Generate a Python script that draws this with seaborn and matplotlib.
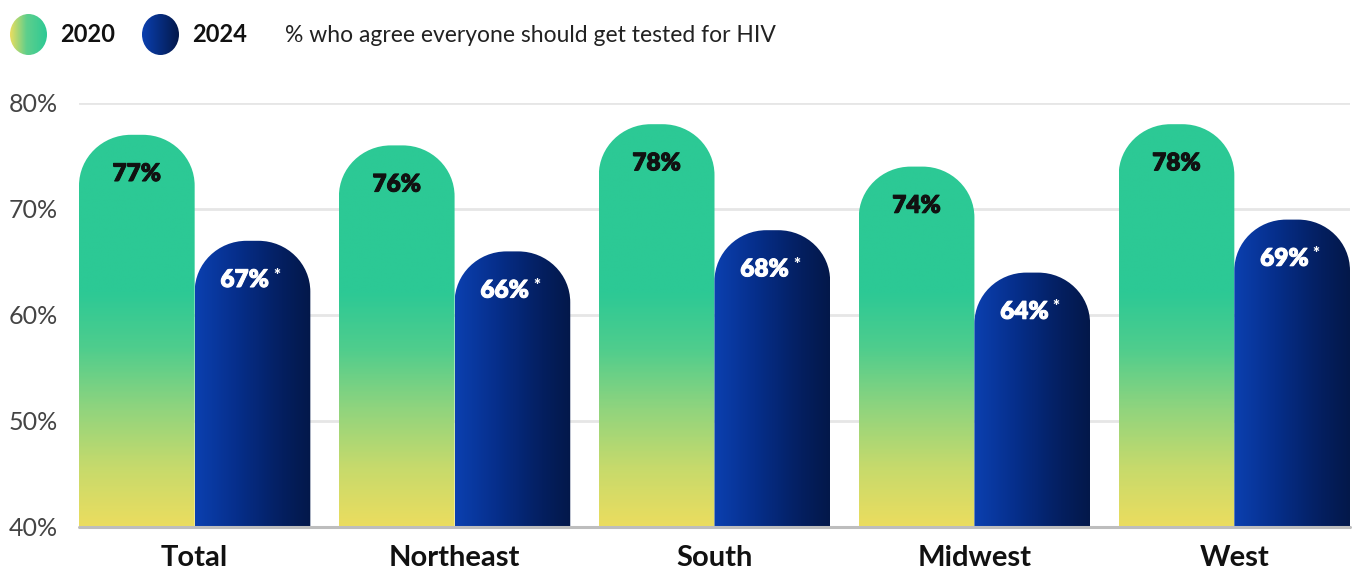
import numpy as np
import pandas as pd
import matplotlib
matplotlib.use("Agg")
import matplotlib.pyplot as plt
import matplotlib.patheffects as pe
import seaborn as sns
from matplotlib.path import Path
from matplotlib.patches import PathPatch, Ellipse
from matplotlib.colors import LinearSegmentedColormap, Normalize

# Survey data
regions = ["Total", "Northeast", "South", "Midwest", "West"]
years = ["2020", "2024"]
values_2020 = [77, 76, 78, 74, 78]
values_2024 = [67, 66, 68, 64, 69]
y_ticks = [40, 50, 60, 70, 80]
subtitle = "% who agree everyone should get tested for HIV"

df = pd.DataFrame({
    "region": regions * 2,
    "year": [years[0]] * len(regions) + [years[1]] * len(regions),
    "value": values_2020 + values_2024,
})

sns.set_theme(style="white")
plt.rcParams["font.family"] = ["Lato", "DejaVu Sans"]

W, H = 1353, 571
fig = plt.figure(figsize=(W / 100, H / 100), dpi=100)
ax = fig.add_axes([79 / W, 1 - 527 / H, (1350 - 79) / W, (527 - 103) / H])

YMIN, YMAX = 40, 80
sns.barplot(data=df, x="region", y="value", hue="year", order=regions,
            hue_order=years, palette=["#2DC995", "#0A2F8A"], width=0.89,
            saturation=1, legend=False, ax=ax, zorder=2)

# Gradients
green_cmap = LinearSegmentedColormap.from_list("green", [
    (0.00, "#EBDD5F"), (0.14, "#C6DA6C"), (0.28, "#8FD47E"),
    (0.42, "#4FCD8D"), (0.55, "#2DC995"), (1.00, "#2CC995")])
blue_cmap = LinearSegmentedColormap.from_list("blue", [
    (0.00, "#0B40B0"), (0.35, "#062F8C"), (0.75, "#041F60"), (1.00, "#03184A")])

RX, RY = 0.2, 4.8   # corner radii of the rounded bar tops (data units)
K = 0.5523


def rounded_top(x0, x1, top):
    verts = [(x0, YMIN), (x0, top - RY),
             (x0, top - RY + K * RY), (x0 + RX - K * RX, top), (x0 + RX, top),
             (x1 - RX, top),
             (x1 - RX + K * RX, top), (x1, top - RY + K * RY), (x1, top - RY),
             (x1, YMIN), (x0, YMIN)]
    codes = [Path.MOVETO, Path.LINETO,
             Path.CURVE4, Path.CURVE4, Path.CURVE4,
             Path.LINETO,
             Path.CURVE4, Path.CURVE4, Path.CURVE4,
             Path.LINETO, Path.CLOSEPOLY]
    return Path(verts, codes)


def heavy(color):
    return [pe.withStroke(linewidth=0.7, foreground=color)]


bars = list(ax.patches)
for bar in bars:
    x0 = bar.get_x()
    x1 = x0 + bar.get_width()
    xc = (x0 + x1) / 2
    top = bar.get_height()
    is_2020 = abs(bar.get_facecolor()[1] - 0xC9 / 255) < 0.05
    bar.set_visible(False)
    clip = PathPatch(rounded_top(x0, x1, top), transform=ax.transData,
                     facecolor="none", edgecolor="none")
    ax.add_patch(clip)
    if is_2020:
        grad = np.linspace(YMIN, top, 300).reshape(-1, 1)
        im = ax.imshow(grad, cmap=green_cmap, norm=Normalize(YMIN, YMAX),
                       extent=(x0, x1, YMIN, top), origin="lower",
                       aspect="auto", zorder=2, interpolation="bilinear")
        ax.text(xc, top - 3.7, f"{int(round(top))}%", ha="center",
                va="center", fontsize=17.5, fontweight="heavy",
                color="#111111", zorder=4, path_effects=heavy("#111111"))
    else:
        grad = np.linspace(0, 1, 300).reshape(1, -1)
        im = ax.imshow(grad, cmap=blue_cmap, extent=(x0, x1, YMIN, top),
                       origin="lower", aspect="auto", zorder=2,
                       interpolation="bilinear")
        txt = ax.text(xc - 0.03, top - 3.7, f"{int(round(top))}%",
                      ha="center", va="center", fontsize=17.5,
                      fontweight="heavy", color="white", zorder=4,
                      path_effects=heavy("white"))
        ax.annotate("*", xy=(1, 1), xycoords=txt, xytext=(3, 1),
                    textcoords="offset points", ha="left", va="top",
                    fontsize=12, fontweight="heavy", color="white", zorder=4)
    im.set_clip_path(clip)

ax.set_xlim(-0.445, 4.445)
ax.set_ylim(YMIN, YMAX)
ax.set_yticks(y_ticks)
ax.set_yticklabels([f"{t}%" for t in y_ticks])
for t in y_ticks[1:]:
    ax.axhline(t, color="#E6E6E6", lw=2, zorder=1)
ax.axhline(YMIN, color="#BDBDBD", lw=2.2, zorder=3, clip_on=False)
for s in ax.spines.values():
    s.set_visible(False)
ax.set_xlabel("")
ax.set_ylabel("")
ax.tick_params(axis="y", length=0, pad=15, labelsize=18, labelcolor="#444444")
ax.tick_params(axis="x", length=0, pad=13, labelsize=21, labelcolor="#111111")
for lbl in ax.get_xticklabels():
    lbl.set_fontweight("bold")
ax.grid(False)

# Legend swatches
legend_specs = [
    (10, years[0], LinearSegmentedColormap.from_list(
        "lg1", [(0, "#EBDD5F"), (0.45, "#5ECF8C"), (1, "#2DC995")])),
    (142, years[1], LinearSegmentedColormap.from_list(
        "lg2", [(0, "#0B40B0"), (1, "#03184A")])),
]
for left, label, cmap in legend_specs:
    lax = fig.add_axes([left / W, 1 - 55 / H, 37 / W, 41 / H])
    im = lax.imshow(np.linspace(0, 1, 200).reshape(1, -1), cmap=cmap,
                    extent=(0, 1, 0, 1), aspect="auto", interpolation="bilinear")
    e = Ellipse((0.5, 0.5), 1, 1, transform=lax.transData, facecolor="none",
                edgecolor="none")
    lax.add_patch(e)
    im.set_clip_path(e)
    lax.set_xlim(0, 1)
    lax.set_ylim(0, 1)
    lax.axis("off")
    fig.text((left + 50) / W, 1 - 35 / H, label, ha="left", va="center",
             fontsize=17, fontweight="bold", color="#111111")

fig.text(285 / W, 1 - 35 / H, subtitle, ha="left", va="center",
         fontsize=16.5, color="#222222")

fig.savefig("out.png", dpi=100)
